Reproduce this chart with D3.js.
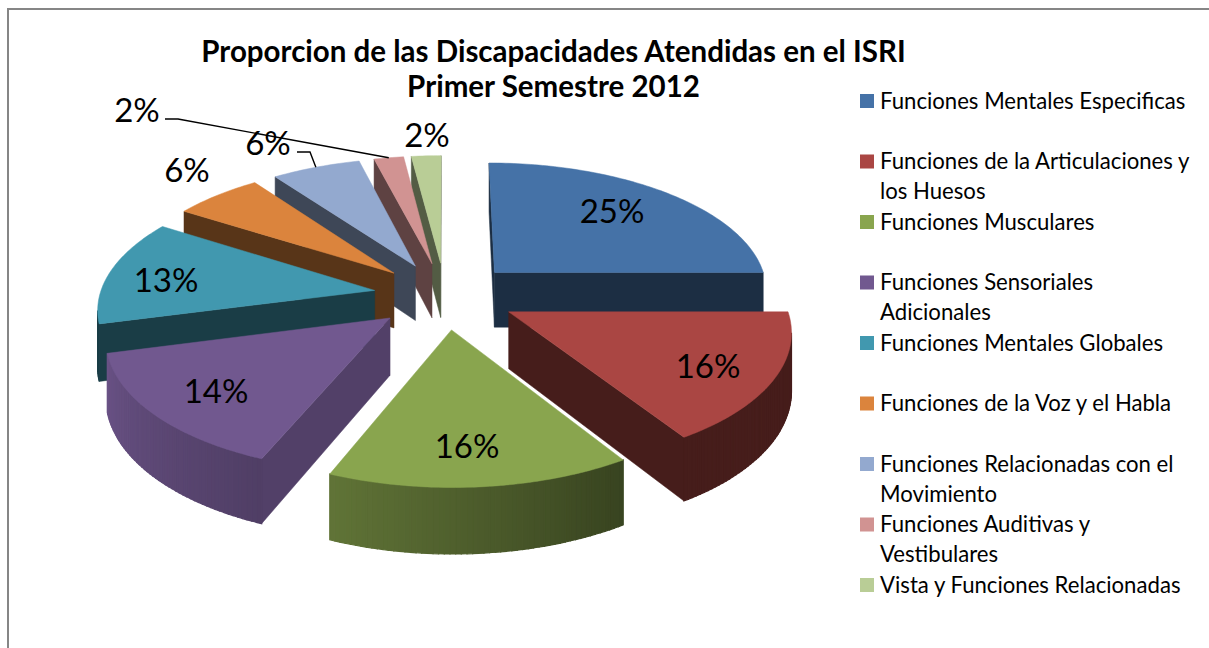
<!DOCTYPE html>
<html>
<head>
<meta charset="utf-8">
<script src="https://cdn.jsdelivr.net/npm/d3@7"></script>
<style>
  html, body { margin: 0; padding: 0; background: #fff; }
  svg { display: block; }
  text { font-family: Lato, "Open Sans", sans-serif; fill: #000; }
</style>
</head>
<body>
<svg id="chart" width="1209" height="648"></svg>
<script>
const titleLines = ['Proporcion de las Discapacidades Atendidas en el ISRI', 'Primer Semestre 2012'];

const categories = [
  ['Funciones Mentales Especificas'],
  ['Funciones de la Articulaciones y', 'los Huesos'],
  ['Funciones Musculares'],
  ['Funciones Sensoriales', 'Adicionales'],
  ['Funciones Mentales Globales'],
  ['Funciones de la Voz y el Habla'],
  ['Funciones Relacionadas con el', 'Movimiento'],
  ['Funciones Auditivas y', 'Vestibulares'],
  ['Vista y Funciones Relacionadas']
];
// Estimated from the slice angles in the picture, so they can sit a little off the printed labels
const values = [25, 16, 15.2, 14.7, 13.1, 6, 6, 2, 2];
const labels = ['25%', '16%', '16%', '14%', '13%', '6%', '6%', '2%', '2%'];

const colors = ['#4572a7', '#aa4643', '#89a54e', '#71588f', '#4198af', '#db843d', '#93a9cf', '#d19392', '#b9cd96'];
// Brightness of the flat cut faces, per slice
const cutShade = [0.4, 0.41, 0.45, 0.73, 0.4, 0.4, 0.42, 0.45, 0.45];
// Only these two slices show lighting across the outer wall
const litRims = [2, 3];
// Back slices first so the front ones paint over them
const drawOrder = [0, 8, 7, 6, 5, 4, 3, 1, 2];

// Where Excel left the data labels
const labelSpots = [[612, 211], [708, 366], [467, 446], [216, 391], [166, 280], [187, 170], [268, 143], [137, 110], [427, 135]];

// Pie plane as seen by the camera
const cx = 445, cy = 295.5, rx = 275, ry = 128.5, persp = 0.125, explode = 0.26, depth = 56;

const toDeg = 180 / Math.PI;
const rimShade = d3.scaleLinear().domain([90, 150, 205, 255, 300]).range([0.4, 0.42, 0.72, 0.93, 1]).clamp(true);

function project(u, v, h = 0) {
  const s = 1 / (1 - persp * v);
  return [cx + rx * u * s, cy + ry * v * s + h * s];
}

function shade(color, f) {
  const c = d3.rgb(color);
  return d3.rgb(c.r * f, c.g * f, c.b * f).formatHex();
}

// side of the line a->b that p lies on
function side(a, b, p) {
  return (b[0] - a[0]) * (p[1] - a[1]) - (b[1] - a[1]) * (p[0] - a[0]);
}

const svg = d3.select('#chart');
const line = d3.line();

// Chart frame, only its top and left edges are in the picture
svg.append('path')
  .attr('d', line([[8, 648], [8, 9], [1209, 9]]))
  .attr('fill', 'none').attr('stroke', '#868686').attr('stroke-width', 2);

const pie = d3.pie().sort(null).value(d => d);
const arcs = pie(values);

const slices = arcs.map((a, i) => {
  const mid = (a.startAngle + a.endAngle) / 2;
  const ou = explode * Math.sin(mid);
  const ov = -explode * Math.cos(mid);
  const onRim = t => [ou + Math.sin(t), ov - Math.cos(t)];
  const steps = d3.range(0, Math.max(2, Math.ceil((a.endAngle - a.startAngle) * toDeg)) + 1);
  const angle = d3.scaleLinear().domain([0, steps.length - 1]).range([a.startAngle, a.endAngle]);
  const rim = steps.map(s => ({ t: angle(s), p: onRim(angle(s)) }));
  return { i, ou, ov, rim, color: colors[i] };
});

const pieG = svg.append('g');

drawOrder.forEach(i => {
  const s = slices[i];
  const g = pieG.append('g');
  const apex = project(s.ou, s.ov);
  const apexLow = project(s.ou, s.ov, depth);
  const midRim = project(...s.rim[Math.floor(s.rim.length / 2)].p);

  // Flat cut faces that turn toward the viewer
  [s.rim[0], s.rim[s.rim.length - 1]].forEach(e => {
    const top = project(...e.p);
    const low = project(...e.p, depth);
    const seen = side(apex, top, midRim) * side(apex, top, [apex[0], apex[1] + 10]) < 0;
    if (!seen) return;
    g.append('path')
      .attr('d', line([apex, top, low, apexLow]) + 'Z')
      .attr('fill', shade(s.color, cutShade[i]))
      .attr('stroke', shade(s.color, cutShade[i]))
      .attr('stroke-width', 0.5);
  });

  // Outer wall, one band per step, lit by its direction
  d3.pairs(s.rim).forEach(([a, b]) => {
    const pa = project(...a.p), pb = project(...b.p);
    if (side(pa, pb, apex) * side(pa, pb, [pa[0], pa[1] + 10]) >= 0) return;
    const f = litRims.includes(i) ? rimShade(a.t * toDeg) : cutShade[i];
    const fill = shade(s.color, f);
    g.append('path')
      .attr('d', line([pa, pb, project(...b.p, depth), project(...a.p, depth)]) + 'Z')
      .attr('fill', fill).attr('stroke', fill).attr('stroke-width', 1.2);
  });

  // Top face
  g.append('path')
    .attr('d', line([apex, ...s.rim.map(r => project(...r.p))]) + 'Z')
    .attr('fill', s.color).attr('stroke', s.color).attr('stroke-width', 0.5);
});

// Leader lines for the two labels that were dragged off their slices
const leaderFrom = { 6: [[297, 152], [310, 152]], 7: [[165, 119], [178, 119]] };
Object.entries(leaderFrom).forEach(([i, pts]) => {
  const s = slices[+i];
  const end = project(...s.rim[Math.floor(s.rim.length / 2)].p);
  svg.append('path')
    .attr('d', line([...pts, end]))
    .attr('fill', 'none').attr('stroke', '#000').attr('stroke-width', 1.4);
});

// Data labels
svg.append('g').selectAll('text')
  .data(labels)
  .join('text')
  .attr('x', (d, i) => labelSpots[i][0])
  .attr('y', (d, i) => labelSpots[i][1])
  .attr('dy', '0.36em')
  .attr('text-anchor', 'middle')
  .attr('font-size', 33)
  .text(d => d);

// Title
svg.append('g').selectAll('text')
  .data(titleLines)
  .join('text')
  .attr('x', 553.5)
  .attr('y', (d, i) => 62 + i * 35)
  .attr('text-anchor', 'middle')
  .attr('font-size', 29.5)
  .attr('font-weight', 700)
  .text(d => d);

// Legend
const legendY = d3.scaleLinear().domain([0, 8]).range([101, 585]);
const legend = svg.append('g').selectAll('g')
  .data(categories)
  .join('g')
  .attr('transform', (d, i) => `translate(860,${legendY(i)})`);

legend.append('rect')
  .attr('x', 0).attr('y', -7).attr('width', 14).attr('height', 14)
  .attr('fill', (d, i) => colors[i]);

legend.append('text')
  .attr('font-size', 22.15)
  .selectAll('tspan')
  .data(d => d)
  .join('tspan')
  .attr('x', 20)
  .attr('y', (d, i) => i * 30)
  .attr('dy', '0.36em')
  .text(d => d);
</script>
</body>
</html>
